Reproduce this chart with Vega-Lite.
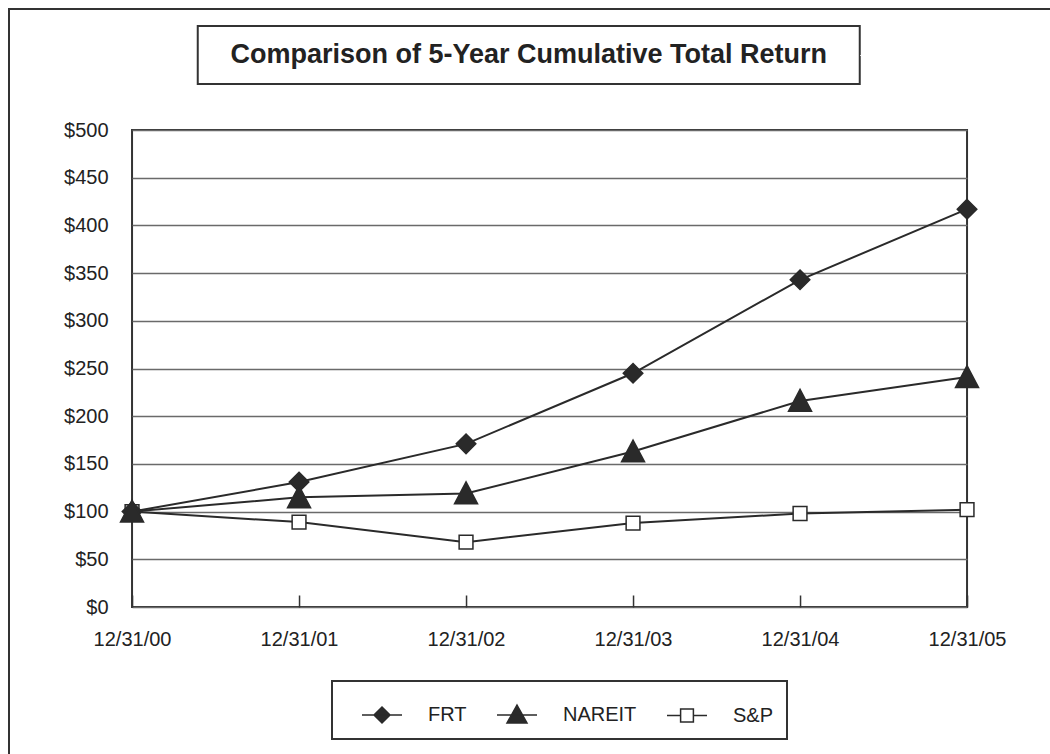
{
  "$schema": "https://vega.github.io/schema/vega-lite/v6.json",
  "autosize": {"type": "pad"},
  "padding": {"left": 8, "top": 8, "right": 0, "bottom": 0},
  "background": "white",
  "config": {
    "font": "Liberation Sans",
    "view": {"stroke": "#333333", "strokeWidth": 2},
    "axis": {"labelFont": "Liberation Sans", "labelColor": "#222222", "labelFontSize": 20, "title": null},
    "legend": {"labelFont": "Liberation Sans", "strokeWidth": 2}
  },
  "spacing": 34,
  "center": true,
  "vconcat": [
    {
      "width": 662,
      "height": 58,
      "view": {"stroke": "#333333", "strokeWidth": 2},
      "data": {"values": [{"title": "Comparison of 5-Year Cumulative Total Return"}]},
      "mark": {"type": "text", "font": "Liberation Sans", "fontSize": 27, "fontWeight": "bold", "color": "#222222", "align": "center", "baseline": "middle"},
      "encoding": {
        "text": {"field": "title"},
        "x": {"field": "title", "type": "nominal", "scale": {"type": "point", "padding": 0.5}, "axis": null},
        "y": {"field": "title", "type": "nominal", "scale": {"type": "point", "padding": 0.5}, "axis": {"orient": "right", "labels": false, "domain": false, "ticks": true, "tickSize": 80, "tickColor": "white", "grid": false, "title": null}}
      }
    },
    {
      "width": 835,
      "height": 477,
      "data": {
        "values": [
          {"series": "S&P", "date": "12/31/00", "value": 100},
          {"series": "S&P", "date": "12/31/01", "value": 89},
          {"series": "S&P", "date": "12/31/02", "value": 68},
          {"series": "S&P", "date": "12/31/03", "value": 88},
          {"series": "S&P", "date": "12/31/04", "value": 98},
          {"series": "S&P", "date": "12/31/05", "value": 102},
          {"series": "FRT", "date": "12/31/00", "value": 100},
          {"series": "FRT", "date": "12/31/01", "value": 131},
          {"series": "FRT", "date": "12/31/02", "value": 171},
          {"series": "FRT", "date": "12/31/03", "value": 245},
          {"series": "FRT", "date": "12/31/04", "value": 343},
          {"series": "FRT", "date": "12/31/05", "value": 417},
          {"series": "NAREIT", "date": "12/31/00", "value": 100},
          {"series": "NAREIT", "date": "12/31/01", "value": 115},
          {"series": "NAREIT", "date": "12/31/02", "value": 119},
          {"series": "NAREIT", "date": "12/31/03", "value": 163},
          {"series": "NAREIT", "date": "12/31/04", "value": 216},
          {"series": "NAREIT", "date": "12/31/05", "value": 241}
        ]
      },
      "encoding": {
        "x": {
          "field": "date",
          "type": "ordinal",
          "sort": ["12/31/00", "12/31/01", "12/31/02", "12/31/03", "12/31/04", "12/31/05"],
          "scale": {"type": "point", "padding": 0},
          "axis": {"labelAngle": 0, "domain": false, "ticks": true, "tickSize": -12, "tickColor": "#333333", "tickWidth": 1.5, "labelPadding": 34, "grid": false, "title": null}
        },
        "y": {
          "field": "value",
          "type": "quantitative",
          "scale": {"domain": [0, 500], "nice": false},
          "axis": {"values": [0, 50, 100, 150, 200, 250, 300, 350, 400, 450, 500], "format": "$.0f", "grid": true, "gridColor": "#6a6a6a", "gridWidth": 1.5, "domain": false, "ticks": false, "labelPadding": 24, "title": null}
        }
      },
      "layer": [
        {
          "mark": {"type": "line", "color": "#2a2a2a", "strokeWidth": 2},
          "encoding": {"detail": {"field": "series", "type": "nominal"}}
        },
        {
          "transform": [{"filter": "datum.series === 'S&P'"}],
          "mark": {"type": "point", "shape": "M-0.6,-0.6H0.6V0.6H-0.6Z", "filled": true, "fill": "#ffffff", "stroke": "#2a2a2a", "strokeWidth": 1.5, "size": 529, "opacity": 1}
        },
        {
          "transform": [{"filter": "datum.series === 'FRT'"}],
          "mark": {"type": "point", "shape": "M0,-0.85L0.85,0L0,0.85L-0.85,0Z", "filled": true, "fill": "#2a2a2a", "stroke": "#2a2a2a", "strokeWidth": 1.5, "size": 529},
          "encoding": {
            "opacity": {
              "field": "date",
              "type": "ordinal",
              "scale": {"range": [1, 1, 1, 1, 1, 1]},
              "legend": {
                "orient": "none", "legendX": -123, "legendY": -17, "direction": "horizontal", "title": null,
                "strokeColor": "#333333", "padding": 800, "labelOpacity": 0, "labelExpr": "''", "symbolSize": 0, "symbolStrokeWidth": 0
              }
            }
          }
        },
        {
          "transform": [{"filter": "datum.series === 'NAREIT'"}],
          "mark": {"type": "point", "shape": "M0,-1L1,0.9L-1,0.9Z", "filled": true, "fill": "#2a2a2a", "stroke": "#2a2a2a", "strokeWidth": 1.5, "size": 529, "opacity": 1}
        },
        {
          "transform": [{"filter": "false"}],
          "mark": {"type": "point", "filled": true, "strokeWidth": 1.5, "size": 1600, "opacity": 1},
          "encoding": {
            "shape": {
              "field": "series",
              "type": "nominal",
              "scale": {"domain": ["FRT", "NAREIT", "S&P"], "range": ["M-1,0H1M0,-0.4L0.4,0L0,0.4L-0.4,0Z", "M-1,0H1M0,-0.5L0.5,0.4L-0.5,0.4Z", "M-1,0H-0.32M0.32,0H1M-0.32,-0.32H0.32V0.32H-0.32Z"]},
              "legend": {
                "orient": "none", "legendX": 200, "legendY": 655, "direction": "horizontal", "title": null,
                "strokeColor": "#333333", "padding": 13, "symbolSize": 1600, "symbolOffset": 16,
                "symbolStrokeWidth": 1.5, "symbolOpacity": 1,
                "labelFontSize": 20, "labelColor": "#222222", "labelOffset": 25, "columnPadding": 13
              }
            },
            "fill": {
              "field": "series",
              "type": "nominal",
              "scale": {"domain": ["FRT", "NAREIT", "S&P"], "range": ["#2a2a2a", "#2a2a2a", "#ffffff"]},
              "legend": {
                "orient": "none", "legendX": 200, "legendY": 655, "direction": "horizontal", "title": null,
                "strokeColor": "#333333", "padding": 13, "symbolSize": 1600, "symbolOffset": 16,
                "symbolStrokeWidth": 1.5, "symbolOpacity": 1,
                "labelFontSize": 20, "labelColor": "#222222", "labelOffset": 25, "columnPadding": 13
              }
            },
            "stroke": {
              "field": "series",
              "type": "nominal",
              "scale": {"domain": ["FRT", "NAREIT", "S&P"], "range": ["#2a2a2a", "#2a2a2a", "#2a2a2a"]},
              "legend": {
                "orient": "none", "legendX": 200, "legendY": 655, "direction": "horizontal", "title": null,
                "strokeColor": "#333333", "padding": 13, "symbolSize": 1600, "symbolOffset": 16,
                "symbolStrokeWidth": 1.5, "symbolOpacity": 1,
                "labelFontSize": 20, "labelColor": "#222222", "labelOffset": 25, "columnPadding": 13
              }
            }
          }
        }
      ]
    }
  ]
}
